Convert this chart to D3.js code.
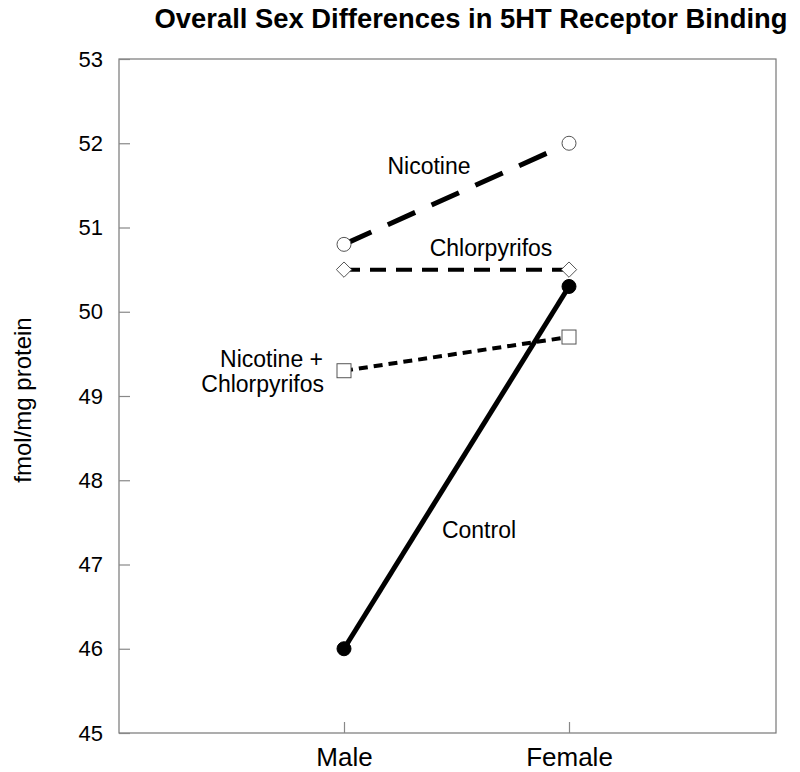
<!DOCTYPE html>
<html><head><meta charset="utf-8">
<script src="https://cdn.jsdelivr.net/npm/d3@7"></script>
<style>body{margin:0;background:#fff;} svg{display:block;font-family:"Liberation Sans",Arial,sans-serif;}</style>
</head><body>
<svg id="c" width="800" height="772"></svg>
<script>
const categories = ["Male", "Female"];
const yTicks = [45, 46, 47, 48, 49, 50, 51, 52, 53];
const nicotine = [50.8, 52.0];
const chlorpyrifos = [50.5, 50.5];
const nicChlor = [49.3, 49.7];
const control = [46.0, 50.3];

const series = [
  {name: "Nicotine", values: nicotine, dash: "30,18", width: 5, marker: "circle", fill: "#fff"},
  {name: "Chlorpyrifos", values: chlorpyrifos, dash: "16,10", width: 4, marker: "diamond", fill: "#fff"},
  {name: "Nicotine + Chlorpyrifos", values: nicChlor, dash: "9,6", width: 4, marker: "square", fill: "#fff"},
  {name: "Control", values: control, dash: null, width: 5, marker: "circle", fill: "#000"}
];

const L = 119, R = 776, T = 59, B = 733;
const FONT = "Liberation Sans, Arial, sans-serif";
const svg = d3.select("#c");
const x = d3.scalePoint().domain(categories).range([344, 569]);
const y = d3.scaleLinear().domain([45, 53]).range([B, T]);

// frame
svg.append("rect").attr("x", L).attr("y", T).attr("width", R - L).attr("height", B - T)
  .attr("fill", "none").attr("stroke", "#777").attr("stroke-width", 1.2);

// y axis
const ya = svg.append("g").attr("transform", `translate(${L},0)`)
  .call(d3.axisRight(y).tickValues(yTicks).tickSize(11).tickFormat(d3.format("d")));
ya.select(".domain").remove();
ya.selectAll("line").attr("stroke", "#888").attr("stroke-width", 1.2);
ya.selectAll("text").attr("x", -16).attr("text-anchor", "end").attr("font-size", 22).attr("fill", "#000")
  .attr("font-family", FONT);

// x axis
const xa = svg.append("g").attr("transform", `translate(0,${B})`)
  .call(d3.axisTop(x).tickSize(11));
xa.select(".domain").remove();
xa.selectAll("line").attr("stroke", "#888").attr("stroke-width", 1.2);
xa.selectAll("text").attr("y", 33).attr("dy", 0).attr("font-size", 26).attr("fill", "#000")
  .attr("font-family", FONT);

// title
svg.append("text").attr("x", 471).attr("y", 28).attr("text-anchor", "middle")
  .attr("font-size", 27).attr("font-weight", "bold").attr("textLength", 633).attr("lengthAdjust", "spacingAndGlyphs")
  .text("Overall Sex Differences in 5HT Receptor Binding");

// y label
svg.append("text").attr("transform", "translate(31,400) rotate(-90)").attr("text-anchor", "middle")
  .attr("font-size", 24).text("fmol/mg protein");

const line = d3.line().x((d, i) => x(categories[i])).y(d => y(d));

series.forEach(s => {
  svg.append("path").datum(s.values).attr("d", line).attr("fill", "none")
    .attr("stroke", "#000").attr("stroke-width", s.width)
    .attr("stroke-dasharray", s.dash);
});

series.forEach(s => {
  s.values.forEach((v, i) => {
    const cx = x(categories[i]), cy = y(v);
    let m;
    if (s.marker === "circle") {
      m = svg.append("circle").attr("cx", cx).attr("cy", cy).attr("r", 7);
    } else if (s.marker === "diamond") {
      m = svg.append("path").attr("d", d3.symbol(d3.symbolDiamond2, 150)()).attr("transform", `translate(${cx},${cy})`);
    } else {
      m = svg.append("rect").attr("x", cx - 7).attr("y", cy - 7).attr("width", 14).attr("height", 14);
    }
    m.attr("fill", s.fill).attr("stroke", s.fill === "#000" ? "#000" : "#555").attr("stroke-width", 1);
  });
});

// labels
const lab = (t, xx, yy, anchor) => svg.append("text").attr("x", xx).attr("y", yy)
  .attr("text-anchor", anchor).attr("font-size", 23).text(t);
lab("Nicotine", 429, 174, "middle");
lab("Chlorpyrifos", 491, 256, "middle");
lab("Nicotine +", 323, 367, "end");
lab("Chlorpyrifos", 324, 392, "end");
lab("Control", 479, 538, "middle");
</script>
</body></html>
